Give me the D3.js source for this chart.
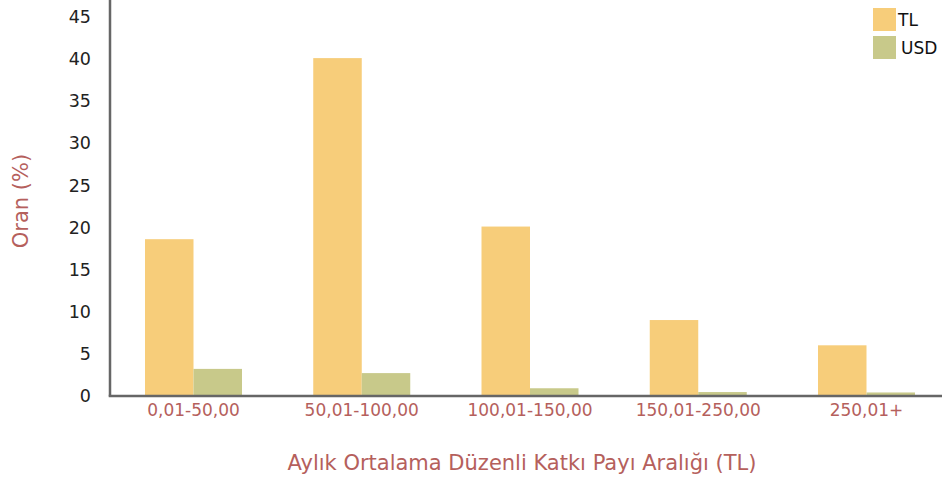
<!DOCTYPE html>
<html><head><meta charset="utf-8">
<script src="https://cdn.jsdelivr.net/npm/d3@7"></script>
<style>body{margin:0;background:#fff}svg{display:block}</style>
</head><body>
<svg id="c" width="942" height="480"></svg>
<script>
const categories = ["0,01-50,00","50,01-100,00","100,01-150,00","150,01-250,00","250,01+"];
const seriesNames = ["TL","USD"];
const tlValues = [18.5, 40.0, 20.0, 8.9, 5.9];
const usdValues = [3.1, 2.6, 0.8, 0.35, 0.3];
const yTicks = [0,5,10,15,20,25,30,35,40,45];
const colors = ["#F7CD7A","#C8C98A"];
const font = "Tahoma, 'DejaVu Sans', sans-serif";
const textRed = "#B5605C";

const svg = d3.select("#c");
const y = d3.scaleLinear().domain([0,45]).range([395,16]);
const x = d3.scalePoint().domain(categories).range([193,866]);
const xs = d3.scaleBand().domain(seriesNames).range([-48,49]);

const data = categories.map((c,i)=>({c, vals:[tlValues[i], usdValues[i]]}));

const g = svg.append("g");
g.selectAll("g.grp").data(data).join("g").attr("class","grp")
  .attr("transform", d=>`translate(${x(d.c)},0)`)
  .selectAll("rect").data(d=>d.vals.map((v,j)=>({s:seriesNames[j], v, j})))
  .join("rect")
  .attr("x", d=>xs(d.s)).attr("width", xs.bandwidth())
  .attr("y", d=>y(d.v)).attr("height", d=>y(0)-y(d.v))
  .attr("fill", d=>colors[d.j]);

// axes lines
svg.append("line").attr("x1",110).attr("x2",110).attr("y1",0).attr("y2",396.5)
  .attr("stroke","#666").attr("stroke-width",2.5);
svg.append("line").attr("x1",108.75).attr("x2",942).attr("y1",396).attr("y2",396)
  .attr("stroke","#666").attr("stroke-width",2.5);

// y tick labels
const yAxis = d3.axisLeft(y).tickValues(yTicks).tickSize(0).tickPadding(0);
const ya = svg.append("g").attr("transform","translate(91,1)").call(yAxis);
ya.select(".domain").remove();
ya.selectAll("text").attr("font-family",font).attr("font-size",17.5).attr("fill","#222");

// x tick labels
const xAxis = d3.axisBottom(x).tickSize(0).tickPadding(0);
const xa = svg.append("g").attr("transform","translate(0,404)").call(xAxis);
xa.select(".domain").remove();
xa.selectAll("text").attr("font-family",font).attr("font-size",17).attr("fill",textRed);

// titles
svg.append("text").attr("x",522).attr("y",470).attr("text-anchor","middle")
  .attr("font-family",font).attr("font-size",21).attr("fill",textRed)
  .text("Aylık Ortalama Düzenli Katkı Payı Aralığı (TL)");
svg.append("text").attr("transform","translate(28,201) rotate(-90)").attr("text-anchor","middle")
  .attr("font-family",font).attr("font-size",21).attr("fill",textRed)
  .text("Oran (%)");

// legend
const leg = svg.append("g").attr("transform","translate(873,8)");
seriesNames.forEach((s,i)=>{
  leg.append("rect").attr("x",0).attr("y",i*28).attr("width",23).attr("height",23).attr("fill",colors[i]);
  leg.append("text").attr("x",i===0?25:28).attr("y",i*28+18).attr("font-family",font)
    .attr("font-size",17).attr("fill","#111").text(s);
});
</script>
</body></html>
